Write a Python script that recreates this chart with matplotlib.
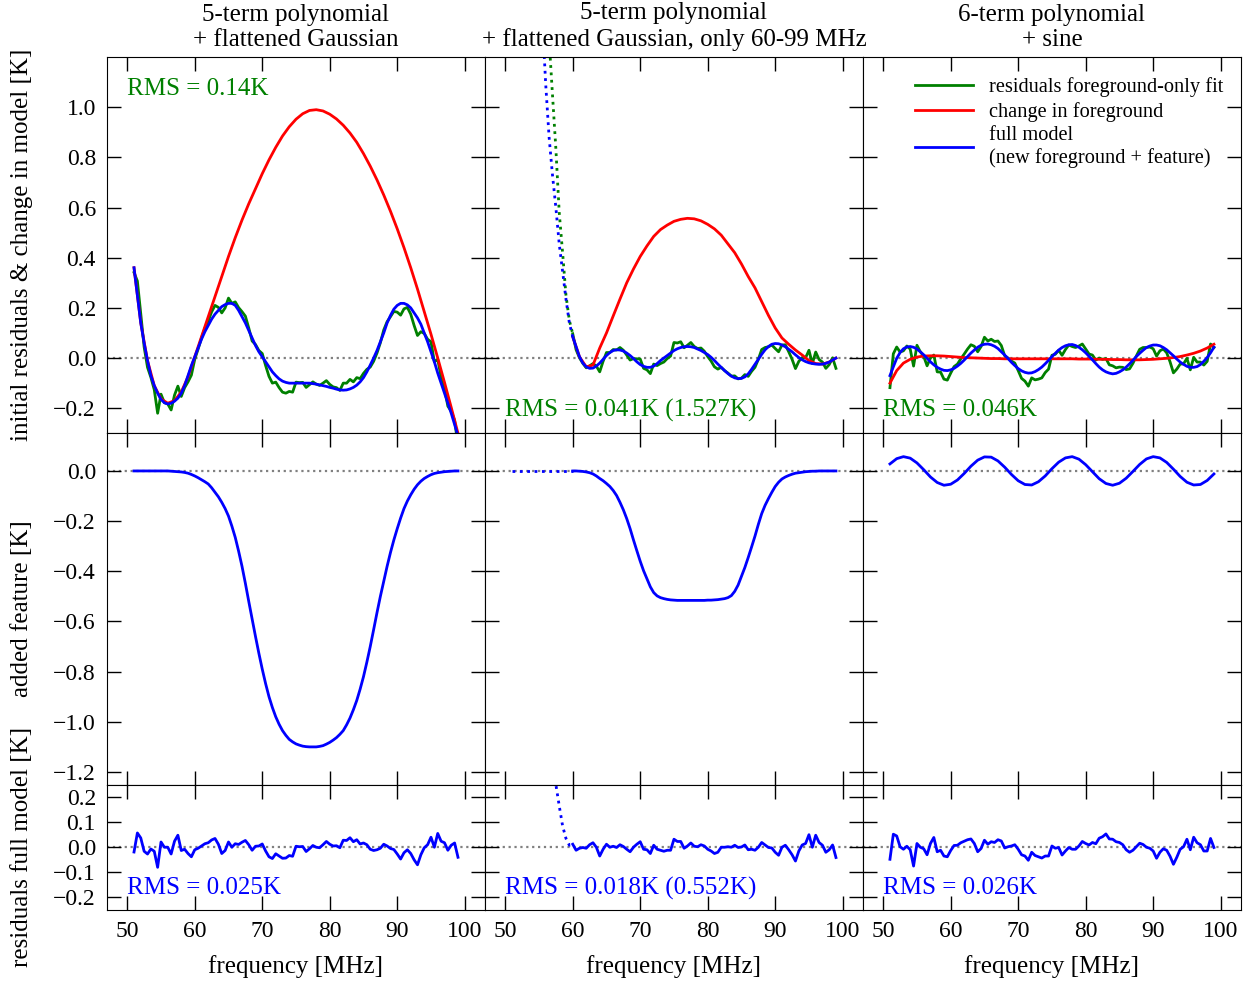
import numpy as np
import matplotlib
matplotlib.use('Agg')
import matplotlib.pyplot as plt

plt.rcParams['font.family'] = ['Liberation Serif', 'DejaVu Serif']

# frequency grids [MHz]
freq = np.arange(51.0, 99.01, 0.5)
freq1 = np.arange(51, 100)
freq_hi = np.arange(60.0, 99.01, 0.5)
freq_hi1 = np.arange(60, 100)

# ---- column 1: 5-term polynomial + flattened Gaussian ----
model_a = [0.36, 0.25, 0.14, 0.06, -0.01, -0.07, -0.11, -0.14, -0.165, -0.178,
           -0.183, -0.18, -0.172, -0.16, -0.14, -0.11, -0.07, -0.03, 0.005, 0.04,
           0.075, 0.105, 0.13, 0.155, 0.175, 0.19, 0.205, 0.213, 0.218, 0.218,
           0.21, 0.19, 0.165, 0.14, 0.11, 0.08, 0.05, 0.025, 0.005, -0.015,
           -0.035, -0.055, -0.07, -0.083, -0.092, -0.097, -0.1, -0.1, -0.1, -0.1,
           -0.1, -0.1, -0.1, -0.102, -0.104, -0.107, -0.11, -0.113, -0.117, -0.12,
           -0.124, -0.127, -0.128, -0.127, -0.123, -0.117, -0.108, -0.095, -0.078, -0.055,
           -0.028, 0.0, 0.03, 0.065, 0.1, 0.14, 0.17, 0.195, 0.21, 0.218,
           0.218, 0.212, 0.2, 0.18, 0.16, 0.135, 0.1, 0.065, 0.025, -0.015,
           -0.06, -0.1, -0.14, -0.18, -0.22, -0.265, -0.31]
fg_change_a = [0.36, 0.14, -0.01, -0.11, -0.163, -0.18, -0.17, -0.135, -0.075, 0.005,
               0.085, 0.165, 0.245, 0.325, 0.405, 0.48, 0.55, 0.615, 0.675, 0.735,
               0.79, 0.84, 0.885, 0.922, 0.952, 0.974, 0.987, 0.99, 0.985, 0.972,
               0.953, 0.928, 0.897, 0.86, 0.815, 0.765, 0.71, 0.65, 0.585, 0.515,
               0.44, 0.36, 0.275, 0.185, 0.095, 0.0, -0.097, -0.197, -0.3]
feature_a = [0, 0, 0, 0, 0, 0, 0, 0, 0, 0,
             0, -0.001, -0.002, -0.003, -0.004, -0.006, -0.009, -0.014, -0.02, -0.027,
             -0.035, -0.043, -0.052, -0.067, -0.085, -0.103, -0.125, -0.15, -0.18, -0.22,
             -0.265, -0.32, -0.38, -0.448, -0.52, -0.59, -0.66, -0.727, -0.79, -0.848,
             -0.9, -0.943, -0.98, -1.01, -1.035, -1.054, -1.07, -1.08, -1.088, -1.093,
             -1.097, -1.099, -1.1, -1.1, -1.1, -1.098, -1.095, -1.089, -1.082, -1.073,
             -1.063, -1.05, -1.035, -1.012, -0.985, -0.952, -0.915, -0.87, -0.82, -0.762,
             -0.7, -0.633, -0.565, -0.5, -0.44, -0.38, -0.325, -0.275, -0.23, -0.188,
             -0.15, -0.12, -0.095, -0.073, -0.055, -0.041, -0.03, -0.022, -0.015, -0.01,
             -0.007, -0.005, -0.003, -0.002, -0.001, 0.0, 0.0]
resid_a = [-0.019, 0.057, 0.037, -0.016, -0.027, -0.007, -0.016, -0.080, 0.021, 0.000,
           0.000, -0.027, 0.024, 0.048, -0.013, -0.008, -0.025, -0.038, -0.010, -0.004,
           0.005, 0.014, 0.018, 0.029, 0.035, 0.012, -0.025, -0.013, 0.021, 0.000,
           0.014, 0.011, 0.020, 0.027, 0.010, -0.012, 0.004, 0.005, 0.013, -0.015,
           -0.038, -0.045, -0.026, -0.035, -0.044, -0.043, -0.033, -0.036, 0.004, 0.002,
           0.003, -0.017, -0.006, 0.007, 0.000, -0.002, 0.010, 0.023, 0.012, 0.005,
           0.006, -0.002, 0.028, 0.027, 0.038, 0.022, 0.030, 0.013, 0.017, 0.010,
           -0.008, -0.013, -0.010, -0.004, 0.012, 0.005, -0.005, -0.009, -0.027, -0.047,
           -0.022, -0.010, -0.025, -0.050, -0.070, -0.030, -0.002, 0.010, 0.040, 0.000,
           0.055, 0.024, 0.018, -0.012, 0.008, 0.017, -0.040]

# ---- column 2: same model, fitted only 60-99 MHz ----
model_b = [0.085, 0.045, 0.005, -0.02, -0.035, -0.041, -0.04, -0.032, -0.02, -0.005,
           0.01, 0.022, 0.03, 0.033, 0.032, 0.028, 0.02, 0.01, -0.002, -0.015,
           -0.026, -0.033, -0.037, -0.037, -0.032, -0.022, -0.01, 0.0, 0.01, 0.02,
           0.03, 0.037, 0.042, 0.045, 0.046, 0.045, 0.042, 0.036, 0.03, 0.022,
           0.014, 0.003, -0.01, -0.024, -0.037, -0.05, -0.062, -0.072, -0.079, -0.082,
           -0.081, -0.075, -0.063, -0.045, -0.025, -0.005, 0.015, 0.033, 0.046, 0.055,
           0.058, 0.057, 0.052, 0.045, 0.035, 0.025, 0.013, 0.002, -0.007, -0.014,
           -0.019, -0.022, -0.024, -0.025, -0.024, -0.021, -0.016, -0.008, 0.0]
fg_change_b = [0.085, 0.005, -0.035, -0.028, 0.04, 0.1, 0.168, 0.235, 0.3, 0.355,
               0.405, 0.447, 0.485, 0.512, 0.53, 0.545, 0.553, 0.557, 0.555, 0.547,
               0.533, 0.515, 0.49, 0.455, 0.42, 0.375, 0.325, 0.28, 0.225, 0.17,
               0.12, 0.08, 0.055, 0.032, 0.012, -0.01, -0.022, -0.024, -0.016, 0.0]
feature_b = [0, 0, -0.001, -0.002, -0.004, -0.007, -0.012, -0.02, -0.03, -0.039,
             -0.05, -0.062, -0.078, -0.098, -0.125, -0.155, -0.19, -0.23, -0.275, -0.318,
             -0.36, -0.398, -0.43, -0.462, -0.485, -0.498, -0.505, -0.509, -0.512, -0.514,
             -0.515, -0.516, -0.516, -0.516, -0.516, -0.516, -0.516, -0.516, -0.516, -0.516,
             -0.515, -0.515, -0.514, -0.513, -0.511, -0.509, -0.505, -0.497, -0.48, -0.455,
             -0.42, -0.385, -0.345, -0.303, -0.26, -0.213, -0.17, -0.137, -0.11, -0.085,
             -0.062, -0.045, -0.032, -0.024, -0.018, -0.013, -0.009, -0.007, -0.005, -0.003,
             -0.002, -0.001, -0.001, 0, 0, 0, 0, 0, 0]
resid_b = [0.012, -0.012, -0.004, -0.001, -0.004, 0.010, 0.018, 0.000, -0.035, -0.008,
           0.012, 0.000, 0.004, -0.001, 0.010, 0.003, -0.008, -0.018, 0.000, 0.012,
           0.022, -0.008, -0.010, -0.025, 0.008, -0.008, -0.012, -0.016, -0.012, -0.012,
           0.032, 0.023, 0.023, -0.004, 0.005, 0.017, 0.004, 0.002, 0.010, 0.005,
           -0.008, -0.015, -0.025, -0.020, 0.000, 0.000, 0.002, 0.000, 0.008, -0.001,
           0.001, 0.009, -0.010, -0.008, -0.012, 0.000, 0.019, 0.009, -0.001, -0.003,
           -0.020, -0.032, 0.000, 0.008, -0.010, -0.030, -0.055, -0.015, 0.009, 0.015,
           0.050, 0.000, 0.048, 0.019, 0.008, -0.020, -0.010, 0.009, -0.041]
# extrapolation below 60 MHz (dotted)
ext_freq_model = [55.5, 56.0, 56.5, 57.0, 57.5, 58.0, 58.5, 59.0, 59.5, 60.0]
ext_model_b = [1.35, 1.09, 0.88, 0.73, 0.6, 0.455, 0.345, 0.235, 0.14, 0.085]
ext_freq_data = [56.0, 56.5, 57.0, 57.5, 58.0, 58.5, 59.0, 59.5, 60.0]
ext_data_b = [1.49, 1.27, 1.05, 0.835, 0.58, 0.42, 0.25, 0.15, 0.097]
ext_freq_feat = [51, 52, 53, 54, 55, 56, 57, 58, 59, 60]
ext_feature_b = [0, 0, 0, 0, 0, 0, 0, 0, 0, 0]
ext_freq_resid = [57.0, 57.5, 58.0, 58.5, 59.0, 59.5, 60.0]
ext_resid_b = [0.36, 0.25, 0.165, 0.085, 0.035, 0.008, 0.012]

# ---- column 3: 6-term polynomial + sine ----
model_c = [-0.07, -0.035, -0.001, 0.022, 0.037, 0.044, 0.046, 0.043, 0.036, 0.025,
           0.013, -0.001, -0.015, -0.027, -0.037, -0.044, -0.049, -0.05, -0.047, -0.041,
           -0.032, -0.021, -0.008, 0.006, 0.020, 0.032, 0.043, 0.051, 0.055, 0.056,
           0.053, 0.047, 0.038, 0.025, 0.012, -0.002, -0.017, -0.030, -0.042, -0.051,
           -0.057, -0.060, -0.059, -0.054, -0.046, -0.036, -0.023, -0.009, 0.006, 0.019,
           0.032, 0.042, 0.049, 0.053, 0.054, 0.050, 0.043, 0.033, 0.021, 0.007,
           -0.007, -0.022, -0.036, -0.047, -0.055, -0.060, -0.063, -0.061, -0.055, -0.047,
           -0.036, -0.023, -0.009, 0.006, 0.019, 0.031, 0.042, 0.048, 0.052, 0.052,
           0.049, 0.042, 0.033, 0.021, 0.009, -0.004, -0.016, -0.025, -0.033, -0.037,
           -0.037, -0.034, -0.026, -0.013, 0.002, 0.021, 0.043]
fg_change_c = [-0.1, -0.05, -0.02, -0.005, 0.004, 0.008, 0.009, 0.009, 0.008, 0.006,
               0.004, 0.002, 0.001, 0.0, -0.001, -0.002, -0.002, -0.003, -0.003, -0.003,
               -0.003, -0.003, -0.003, -0.003, -0.003, -0.003, -0.003, -0.003, -0.004, -0.004,
               -0.004, -0.005, -0.005, -0.006, -0.006, -0.007, -0.007, -0.007, -0.006, -0.005,
               -0.003, -0.001, 0.002, 0.006, 0.012, 0.019, 0.028, 0.04, 0.055]
feature_c = [0.028, 0.049, 0.057, 0.051, 0.032, 0.005, -0.024, -0.046, -0.057, -0.053,
             -0.036, -0.010, 0.019, 0.043, 0.056, 0.055, 0.040, 0.015, -0.014, -0.039,
             -0.054, -0.056, -0.043, -0.020, 0.009, 0.035, 0.052, 0.057, 0.047, 0.025,
             -0.003, -0.031, -0.050, -0.057, -0.049, -0.029, -0.002, 0.026, 0.048, 0.057,
             0.052, 0.034, 0.007, -0.022, -0.045, -0.056, -0.054, -0.038, -0.012]
resid_c = [-0.048, 0.052, 0.045, 0.002, -0.008, 0.004, -0.010, -0.075, 0.015, 0.000,
           -0.006, -0.030, 0.015, 0.039, -0.018, -0.012, -0.035, -0.038, -0.013, 0.007,
           0.008, 0.018, 0.024, 0.030, 0.033, 0.015, -0.018, -0.005, 0.028, 0.012,
           0.022, 0.019, 0.030, 0.025, -0.003, 0.002, 0.005, 0.010, -0.008, -0.030,
           -0.035, -0.052, -0.020, -0.033, -0.038, -0.043, -0.035, -0.035, 0.005, -0.004,
           -0.001, -0.031, -0.015, -0.001, -0.008, -0.008, 0.005, 0.023, 0.015, 0.009,
           0.019, 0.014, 0.036, 0.042, 0.053, 0.033, 0.032, 0.022, 0.019, 0.010,
           -0.010, -0.020, -0.012, 0.002, 0.016, 0.011, 0.000, -0.004, -0.015, -0.044,
           -0.020, -0.006, -0.012, -0.036, -0.068, -0.040, -0.008, 0.002, 0.032, -0.010,
           0.040, 0.018, 0.010, -0.015, -0.015, 0.035, -0.001]

titles = ['5-term polynomial\n+ flattened Gaussian',
          '5-term polynomial\n+ flattened Gaussian, only 60-99 MHz',
          '6-term polynomial\n+ sine']
rms_top = ['RMS = 0.14K', 'RMS = 0.041K (1.527K)', 'RMS = 0.046K']
rms_bot = ['RMS = 0.025K', 'RMS = 0.018K (0.552K)', 'RMS = 0.026K']

# initial residuals = full model + residuals of full model
cols = [
    dict(f=freq, f1=freq1, ff=freq, model=np.array(model_a), fg=fg_change_a,
         feat=feature_a, resid=np.array(resid_a)),
    dict(f=freq_hi, f1=freq_hi1, ff=freq_hi, model=np.array(model_b), fg=fg_change_b,
         feat=feature_b, resid=np.array(resid_b)),
    dict(f=freq, f1=freq1, ff=freq1, model=np.array(model_c), fg=fg_change_c,
         feat=feature_c, resid=np.array(resid_c)),
]

fig = plt.figure(figsize=(12.56, 9.83), dpi=100)
gs = fig.add_gridspec(3, 3, height_ratios=[1.5, 1.4, 0.5], left=0.0852, right=0.988,
                      top=0.942, bottom=0.0743, wspace=0, hspace=0)

lw = 2
for j, c in enumerate(cols):
    ax1 = fig.add_subplot(gs[0, j])
    ax2 = fig.add_subplot(gs[1, j])
    ax3 = fig.add_subplot(gs[2, j])

    for ax in (ax1, ax2, ax3):
        ax.axhline(0, color='gray', ls=':', lw=1.6, zorder=1)

    ax1.plot(c['f'], c['model'] + c['resid'], color='g', lw=lw,
             label='residuals foreground-only fit')
    ax1.plot(c['f1'], c['fg'], color='r', lw=lw, label='change in foreground')
    ax1.plot(c['f'], c['model'], color='b', lw=lw,
             label='full model\n(new foreground + feature)')
    ax2.plot(c['ff'], c['feat'], color='b', lw=lw)
    ax3.plot(c['f'], c['resid'], color='b', lw=lw)

    if j == 1:
        ax1.plot(ext_freq_data, ext_data_b, color='g', ls=':', lw=lw)
        ax1.plot(ext_freq_model, ext_model_b, color='b', ls=':', lw=lw)
        ax2.plot(ext_freq_feat, ext_feature_b, color='b', ls=':', lw=lw)
        ax3.plot(ext_freq_resid, ext_resid_b, color='b', ls=':', lw=lw)

    ax1.set_ylim(-0.3, 1.2)
    ax1.set_yticks([-0.2, 0.0, 0.2, 0.4, 0.6, 0.8, 1.0])
    ax2.set_ylim(-1.25, 0.15)
    ax2.set_yticks([-1.2, -1.0, -0.8, -0.6, -0.4, -0.2, 0.0])
    ax3.set_ylim(-0.25, 0.25)
    ax3.set_yticks([-0.2, -0.1, 0.0, 0.1, 0.2])

    for ax in (ax1, ax2, ax3):
        ax.set_xlim(47, 103)
        ax.set_xticks([50, 60, 70, 80, 90, 100])
        ax.tick_params(direction='in', top=True, right=True, length=10, width=1,
                       labelsize=17, pad=8)
        if j > 0:
            ax.tick_params(labelleft=False)
    ax1.tick_params(labelbottom=False)
    ax2.tick_params(labelbottom=False)
    ax3.set_xlabel('frequency [MHz]', fontsize=18, labelpad=9)

    ax1.set_title(titles[j], fontsize=18, linespacing=1.2, pad=8)

    if j == 0:
        ax1.text(0.053, 0.915, rms_top[j], color='g', fontsize=18,
                 transform=ax1.transAxes, ha='left', va='center')
        ax1.set_ylabel('initial residuals & change in model [K]', fontsize=18)
        ax2.set_ylabel('added feature [K]', fontsize=18)
        ax3.set_ylabel('residuals full model [K]', fontsize=18)
        for ax in (ax1, ax2, ax3):
            ax.yaxis.set_label_coords(-0.197, 0.5)
    else:
        ax1.text(0.053, 0.061, rms_top[j], color='g', fontsize=18,
                 transform=ax1.transAxes, ha='left', va='center')
    ax3.text(0.053, 0.173, rms_bot[j], color='b', fontsize=18,
             transform=ax3.transAxes, ha='left', va='center')

    if j == 2:
        ax1.legend(loc='upper right', bbox_to_anchor=(1.008, 1.0), frameon=False,
                   fontsize=14.7, handlelength=2.85, handletextpad=0.8,
                   labelspacing=0.22, borderaxespad=0.6)

plt.savefig('out.png', dpi=100)
